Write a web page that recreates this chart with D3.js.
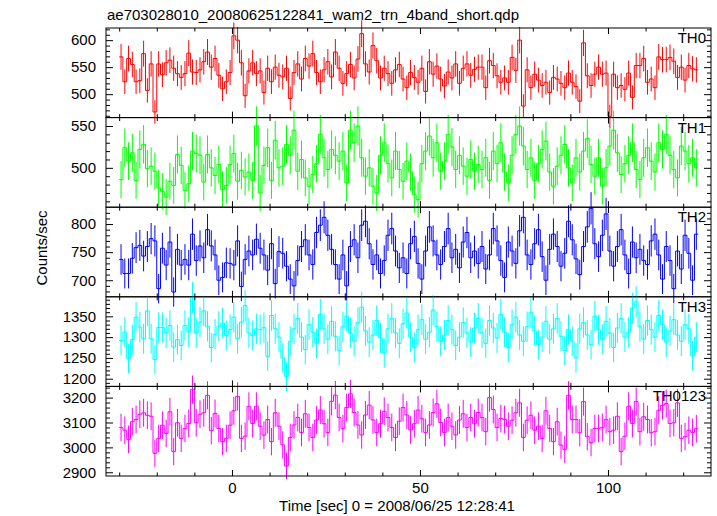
<!DOCTYPE html>
<html><head><meta charset="utf-8">
<script src="https://cdn.jsdelivr.net/npm/d3@7"></script>
<style>
body{margin:0;background:#fff}
svg{display:block}
text{font-family:"Liberation Sans",Arial,Helvetica,sans-serif;fill:#000}
</style>
</head><body>
<svg id="chart" width="717" height="516"></svg>
<script>
const title = "ae703028010_20080625122841_wam2_trn_4band_short.qdp";
const xLabel = "Time [sec] 0 = 2008/06/25 12:28:41";
const yLabel = "Counts/sec";
const binStart = -29.5;   // centre of first 1-s bin
const binWidth = 1;
const xDomain = [-33.5, 127.4];
const xMajorTicks = [0, 50, 100];
const xMinorTicks = [-30,-20,-10,10,20,30,40,60,70,80,90,110,120];
const panelNames = ["TH0", "TH1", "TH2", "TH3", "TH0123"];
const panelColors = ["#ff0000", "#00ff00", "#0000ff", "#00ffff", "#ff00ff"];

const th0 = [569,523,566,555,523,525,575,507,556,467,556,536,558,563,548,538,531,538,576,541,540,545,560,578,550,566,535,510,523,540,608,600,558,497,543,558,538,543,503,548,523,550,535,
532,548,492,540,556,528,566,552,575,540,523,545,560,532,578,548,520,538,555,530,565,612,556,541,590,562,530,548,538,520,545,555,528,512,540,531,522,548,505,560,537,552,528,515,541,530,556,520,548,556,535,546,550,
550,512,562,553,534,522,530,522,568,544,600,478,545,512,537,526,516,522,503,531,528,520,512,539,522,514,487,595,534,516,537,550,537,539,459,537,512,516,509,539,494,553,553,566,522,528,512,569,564,564,568,561,531,550,526,553,547,545];
const th1 = [486,524,508,518,485,522,528,499,502,496,476,472,465,484,479,516,503,473,481,520,517,515,483,516,500,491,504,474,479,504,517,484,497,489,495,485,550,470,503,524,485,533,500,
502,528,515,545,496,510,488,478,492,505,540,512,498,522,515,508,520,482,545,530,550,512,490,500,478,470,515,530,505,488,520,498,484,508,495,468,462,505,520,538,512,530,496,508,540,525,498,515,502,490,510,496,504,
498,512,485,520,505,530,495,482,515,540,550,526,498,512,485,505,522,532,495,478,502,515,528,500,482,512,495,520,535,504,490,512,478,500,526,545,518,492,505,515,530,498,486,512,524,508,495,530,522,540,515,498,488,526,520,505,512,500];
const th2 = [737,712,712,739,758,762,743,760,774,770,685,757,727,768,679,755,727,737,727,782,735,761,740,790,761,745,700,705,731,730,727,770,689,737,752,745,773,757,745,718,765,694,751,
748,725,702,690,735,760,772,745,728,785,798,812,780,755,728,702,745,690,760,772,740,798,805,765,728,745,712,735,780,792,752,722,740,712,765,778,730,702,752,795,770,745,728,760,792,740,755,722,768,785,740,752,730,
760,720,745,792,770,735,705,768,752,730,788,812,745,728,765,790,742,700,755,782,760,725,748,805,772,738,710,760,795,828,765,742,780,818,752,725,760,790,745,712,768,740,755,735,728,770,782,745,702,760,735,685,752,720,780,748,700,782];
const th3 = [1292,1312,1248,1294,1348,1324,1296,1363,1296,1246,1323,1323,1310,1328,1276,1294,1280,1328,1312,1395,1310,1336,1363,1326,1275,1307,1326,1334,1304,1318,1348,1296,1336,1376,1310,1304,1320,1318,1323,1254,1352,1320,1300,
1250,1205,1290,1320,1345,1300,1270,1330,1312,1285,1355,1320,1295,1338,1302,1268,1325,1350,1310,1290,1335,1372,1315,1288,1305,1340,1298,1262,1320,1345,1310,1285,1332,1358,1300,1275,1318,1342,1295,1312,1365,1325,1290,1305,1340,1318,1280,1300,1335,1310,1288,1322,1345,
1310,1285,1340,1322,1298,1355,1312,1275,1330,1348,1305,1290,1325,1360,1315,1282,1300,1338,1295,1320,1345,1302,1268,1318,1290,1250,1320,1335,1305,1282,1350,1318,1295,1338,1310,1275,1322,1345,1300,1312,1370,1385,1325,1295,1340,1318,1300,1352,1330,1288,1315,1342,1305,1290,1330,1320,1255,1300];
const th0123 = [3080,3069,3032,3103,3112,3133,3139,3129,3125,2976,3036,3089,3056,3143,2983,3099,3036,3076,3096,3232,3099,3133,3139,3209,3067,3136,3076,3023,3036,3089,3147,3205,3036,3045,3165,3096,3165,3085,3049,3112,3023,3139,3085,
3010,2925,3040,3090,3120,3060,3135,3080,3040,3110,3150,3095,3060,3185,3210,3120,3075,3160,3215,3140,3090,3050,3130,3170,3110,3060,3095,3145,3120,3080,3040,3105,3160,3130,3070,3095,3150,3115,3060,3090,3140,3175,3100,3060,3120,3085,3050,3110,3135,3080,3120,3095,3140,
3120,3063,3200,3152,3080,3116,3112,3085,3109,3139,3179,3040,3109,3129,3069,3085,3036,3147,3076,3023,3103,3009,2992,3209,3112,3112,3059,3184,3043,3019,3076,3076,3080,3112,3063,3069,3125,2983,3045,3165,3096,3184,3063,3123,3112,3059,3063,3149,3169,3176,3096,3099,3179,3036,3043,3069,3060,3075];

const panelSeries = [th0, th1, th2, th3, th0123];
const yDomains = [[456.6, 622.5], [453, 560], [670.5, 830], [1181.5, 1397], [2885, 3245]];
const yMajorTicks = [[500, 550, 600], [500, 550], [700, 750, 800], [1200, 1250, 1300, 1350], [2900, 3000, 3100, 3200]];
const yMinorStep = [10, 10, 10, 10, 20];

const W = 717, H = 516;
const left = 106, right = 711, top0 = 28, bottom = 476;
const nP = panelNames.length;
const ph = (bottom - top0) / nP;
const svg = d3.select("#chart");
const x = d3.scaleLinear().domain(xDomain).range([left, right]);

panelSeries.forEach((vals, k) => {
  const pt = top0 + k * ph, pb = pt + ph;
  const y = d3.scaleLinear().domain(yDomains[k]).range([pb, pt]);
  const col = panelColors[k];
  const g = svg.append("g");
  const data = vals.map((v, i) => ({t: binStart + i * binWidth, v: v, e: Math.sqrt(v / binWidth)}));

  // error bars
  g.append("g").selectAll("line").data(data).join("line")
    .attr("x1", d => x(d.t)).attr("x2", d => x(d.t))
    .attr("y1", d => y(d.v - d.e)).attr("y2", d => y(d.v + d.e))
    .attr("stroke", col).attr("stroke-width", 1);

  // step histogram
  const edges = data.flatMap(d => [{t: d.t - binWidth / 2, v: d.v}, {t: d.t + binWidth / 2, v: d.v}]);
  g.append("path").datum(edges)
    .attr("d", d3.line().x(d => x(d.t)).y(d => y(d.v)))
    .attr("fill", "none").attr("stroke", col).attr("stroke-width", 1);

  // y ticks
  const [y0, y1] = yDomains[k];
  const minor = d3.range(Math.ceil(y0 / yMinorStep[k]) * yMinorStep[k], y1, yMinorStep[k])
    .filter(v => !yMajorTicks[k].includes(v));
  const axG = svg.append("g").attr("class", "ax");
  axG.append("g").attr("transform", `translate(${left},0)`)
    .call(d3.axisLeft(y).tickValues(yMajorTicks[k]).tickSize(-7).tickPadding(10).tickFormat(d3.format("d")));
  axG.append("g").attr("transform", `translate(${left},0)`)
    .call(d3.axisLeft(y).tickValues(minor).tickSize(-4).tickFormat(""));
  axG.append("g").attr("transform", `translate(${right},0)`)
    .call(d3.axisRight(y).tickValues(yMajorTicks[k]).tickSize(-7).tickFormat(""));
  axG.append("g").attr("transform", `translate(${right},0)`)
    .call(d3.axisRight(y).tickValues(minor).tickSize(-4).tickFormat(""));
  // x ticks top and bottom of each panel
  axG.append("g").attr("transform", `translate(0,${pt})`)
    .call(d3.axisTop(x).tickValues(xMajorTicks).tickSize(-6).tickFormat(""));
  axG.append("g").attr("transform", `translate(0,${pt})`)
    .call(d3.axisTop(x).tickValues(xMinorTicks).tickSize(-3.5).tickFormat(""));
  axG.append("g").attr("transform", `translate(0,${pb})`)
    .call(d3.axisBottom(x).tickValues(xMajorTicks).tickSize(-6).tickPadding(6)
      .tickFormat(k === nP - 1 ? d3.format("d") : ""));
  axG.append("g").attr("transform", `translate(0,${pb})`)
    .call(d3.axisBottom(x).tickValues(xMinorTicks).tickSize(-3.5).tickFormat(""));

  // frame
  svg.append("rect").attr("x", left).attr("y", pt).attr("width", right - left).attr("height", ph)
    .attr("fill", "none").attr("stroke", "#000").attr("stroke-width", 1);

  svg.append("text").attr("x", 706).attr("y", pt + 15).attr("text-anchor", "end")
    .attr("font-size", 15).text(panelNames[k]);
});

svg.selectAll(".ax .domain").remove();
svg.selectAll(".ax .tick line").attr("stroke", "#000");
svg.selectAll(".ax text").attr("font-size", 15).attr("font-family", '"Liberation Sans",Arial,sans-serif').attr("fill", "#000");

svg.append("text").attr("x", 107).attr("y", 20).attr("font-size", 15).text(title);
svg.append("text").attr("x", 397).attr("y", 511).attr("text-anchor", "middle").attr("font-size", 15).text(xLabel);
svg.append("text").attr("transform", "translate(47,248) rotate(-90)").attr("text-anchor", "middle")
  .attr("font-size", 15).text(yLabel);
</script>
</body></html>
